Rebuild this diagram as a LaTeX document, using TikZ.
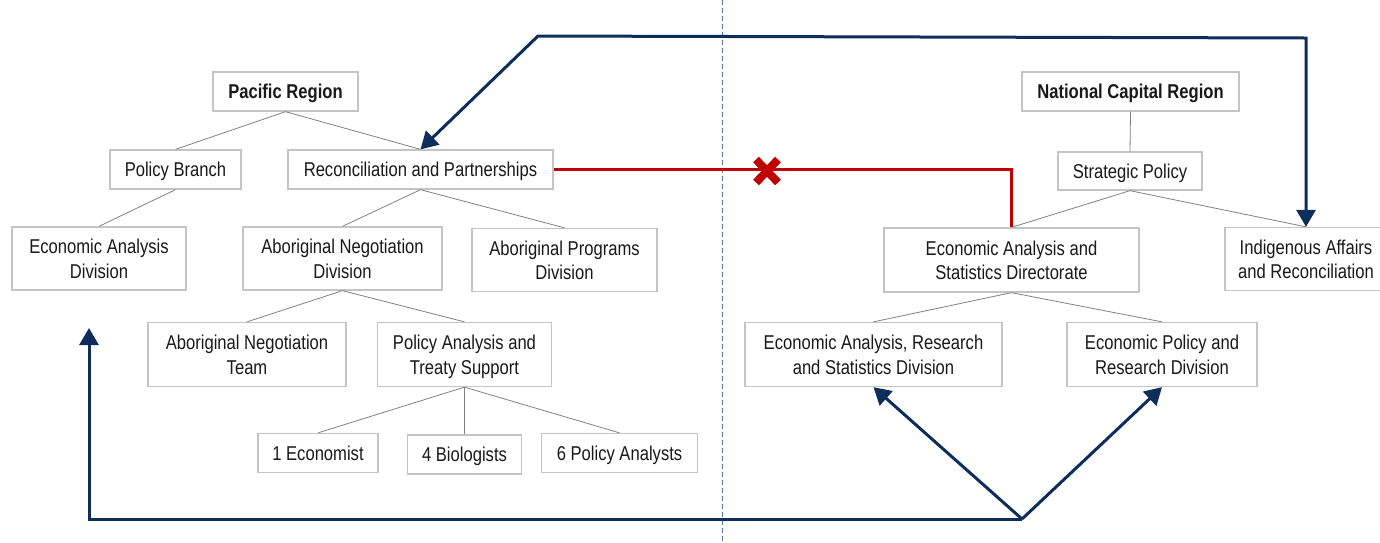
\documentclass[tikz,border=0pt]{standalone}
\usepackage{fontspec}
\setmainfont{Liberation Sans}[FakeStretch=0.83]
\usetikzlibrary{arrows.meta,calc}
\definecolor{navy}{HTML}{0D2D5A}
\definecolor{cutred}{HTML}{C00000}
\definecolor{boxgray}{HTML}{C4C4C4}
\definecolor{divider}{HTML}{5677AD}
\tikzstyle{unit}=[draw=boxgray,line width=1.3pt,fill=white,align=center,inner sep=0pt,text depth=0pt,text=black!90,font=\fontsize{20}{24.5}\selectfont]
\tikzstyle{link}=[draw=gray,line width=0.8pt]
\newcommand{\unitbox}[5]{\node[unit,minimum width=#3pt,minimum height=#4pt] (#1) at (#2) {#5};}
\newcommand{\tie}[2]{\draw[link] (#1.south) -- (#2.north);}
\tikzset{
	navyarrow/.style={draw=navy,line width=3pt,-{Triangle[width=19pt,length=17pt]}},
	cutline/.style={draw=cutred,line width=2.6pt},
}

\begin{document}
\begin{tikzpicture}[x=1pt,y=-1pt]
    \useasboundingbox (0,0) rectangle (1380,542);
    % region divider
    \draw[divider,line width=1pt,dash pattern=on 5pt off 3pt] (722,0) -- (722,542);
    
    % pacific region
    \unitbox{pac}{285.5,91.5}{145}{39}{\textbf{Pacific Region}}
    \unitbox{pb}{175.5,169.5}{131}{39}{Policy Branch}
    \unitbox{rp}{420.5,169.5}{265}{39}{Reconciliation and Partnerships}
    \unitbox{ead}{99,258.5}{174}{63}{Economic Analysis\\Division}
    \unitbox{and}{342.5,258.5}{199}{63}{Aboriginal Negotiation\\Division}
    \unitbox{apd}{564.5,260}{185}{63}{Aboriginal Programs\\Division}
    \unitbox{ant}{247,354.5}{198}{64}{Aboriginal Negotiation\\Team}
    \unitbox{pats}{464.5,354.5}{174}{64}{Policy Analysis and\\Treaty Support}
    \unitbox{eco}{318,453}{120}{39}{1 Economist}
    \unitbox{bio}{464.5,454.5}{114}{39}{4 Biologists}
    \unitbox{pan}{619.5,453}{156}{39}{6 Policy Analysts}
    
    % national capital region
    \unitbox{ncr}{1130.5,91.5}{217}{39}{\textbf{National Capital Region}}
    \unitbox{sp}{1130,171}{144}{38}{Strategic Policy}
    \unitbox{easd}{1011.5,260}{255}{64}{Economic Analysis and\\Statistics Directorate}
    \unitbox{iar}{1306,259}{162}{63}{Indigenous Affairs\\and Reconciliation}
    \unitbox{ears}{873.5,354.5}{257}{64}{Economic Analysis, Research\\and Statistics Division}
    \unitbox{epr}{1162,354.5}{190}{64}{Economic Policy and\\Research Division}
    
    %
    \tie{pac}{pb}
    \tie{pac}{rp}
    \tie{pb}{ead}
    \tie{rp}{and}
    \tie{rp}{apd}
    \tie{and}{ant}
    \tie{and}{pats}
    \tie{pats}{eco}
    \tie{pats}{bio}
    \tie{pats}{pan}
    \tie{ncr}{sp}
    \tie{sp}{easd}
    \tie{sp}{iar}
    \tie{easd}{ears}
    \tie{easd}{epr}
    
    % broken link
    \draw[cutline] (rp.east) -| (easd.north);
    \node (cut) at (767,171) {};
    \draw[cutred,line width=8pt] (cut.center) +(-11,-11.5) -- +(11,11.5);
    \draw[cutred,line width=8pt] (cut.center) +(-11,11.5) -- +(11,-11.5);
    
    % flows
    \coordinate (topleft) at (538,36);
    \coordinate (topright) at (1306,38);
    \coordinate (fork) at (1022,519);
    \coordinate (botleft) at (89,519);
    \coordinate (eadin) at (89,328);
    \draw[navyarrow,{Triangle[width=19pt,length=17pt]}-{Triangle[width=19pt,length=17pt]}] (rp.north) -- (topleft) -- (topright) -- (iar.north);
    \draw[navyarrow] (fork) -- (ears.south);
    \draw[navyarrow] (fork) -- (epr.south);
    \draw[navyarrow] (fork) -- (botleft) -- (eadin);
\end{tikzpicture}
\end{document}
